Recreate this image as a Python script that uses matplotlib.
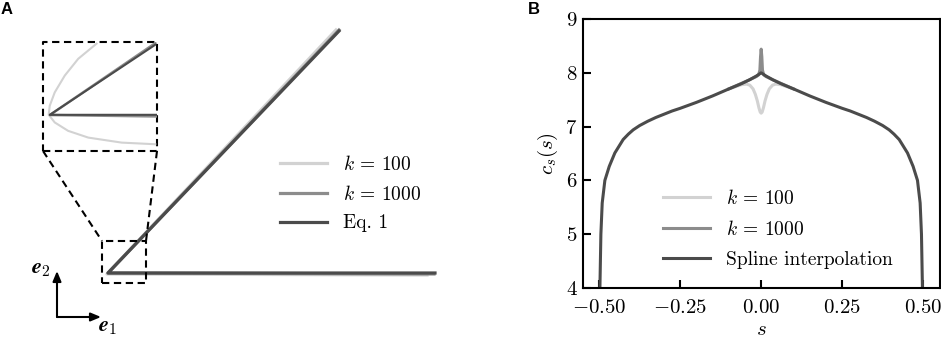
"""Two-panel figure: corner geometry schematic (A) and curvature-like profile c_s(s) (B)."""

import matplotlib

matplotlib.use("Agg")
import matplotlib.pyplot as plt  # noqa: E402

plt.rcParams["font.family"] = "serif"
plt.rcParams["font.serif"] = ["cmr10"]
plt.rcParams["mathtext.fontset"] = "cm"
plt.rcParams["axes.formatter.use_mathtext"] = True

LIGHT, MID, DARK = "#d2d2d2", "#8c8c8c", "#4b4b4b"

# --- panel A: branch geometry, px units measured from the corner vertex (y up)
eq1_x = [231, 0, 327]
eq1_y = [242, 0, 0]
k1000_x = [231, 0, 326]
k1000_y = [243, 0, -1]
k100_x = [228, -1, 319]
k100_y = [243, -1, -2]

# zoomed view near the vertex, inset-local units (0..1)
ins_eq1_x = [0.985, 0.06, 1.0]
ins_eq1_y = [0.975, 0.332, 0.332]
ins_k1000_x = [0.985, 0.06, 1.0]
ins_k1000_y = [0.99, 0.33, 0.317]
ins_k100_x = [0.47, 0.309, 0.191, 0.103, 0.059, 0.05, 0.103, 0.22, 0.397, 0.69, 0.985]
ins_k100_y = [0.985, 0.846, 0.692, 0.538, 0.415, 0.332, 0.262, 0.185, 0.123, 0.077, 0.062]

# --- panel B: c_s(s)
s_vals = [-0.4985, -0.4978, -0.4948, -0.4907, -0.4825, -0.469, -0.4517, -0.426,
          -0.41, -0.395, -0.375, -0.35, -0.325, -0.30, -0.275, -0.25, -0.20,
          -0.15, -0.10, -0.06, -0.036, -0.015, -0.005, 0.0,
          0.005, 0.015, 0.036, 0.06, 0.10, 0.15,
          0.20, 0.25, 0.275, 0.30, 0.325, 0.35, 0.375, 0.395, 0.41,
          0.426, 0.4517, 0.469, 0.4825, 0.4907, 0.4948, 0.4978, 0.4985]
spline_vals = [3.8, 4.0, 5.0, 5.58, 6.0, 6.26, 6.51, 6.76,
               6.86, 6.94, 7.02, 7.10, 7.17, 7.23, 7.29, 7.34, 7.45,
               7.57, 7.70, 7.80, 7.87, 7.94, 7.98, 8.0,
               7.98, 7.94, 7.87, 7.80, 7.70, 7.57,
               7.45, 7.34, 7.29, 7.23, 7.17, 7.10, 7.02, 6.94, 6.86,
               6.76, 6.51, 6.26, 6.0, 5.58, 5.0, 4.0, 3.8]

# near s = 0 the finite-k curves depart from the spline
s_k100 = [-0.10, -0.06, -0.045, -0.035, -0.025, -0.018, -0.012, -0.007, -0.003, 0.0,
          0.003, 0.007, 0.012, 0.018, 0.025, 0.035, 0.045, 0.06, 0.10]
k100_vals = [7.70, 7.78, 7.79, 7.77, 7.70, 7.60, 7.48, 7.35, 7.27, 7.25,
             7.27, 7.35, 7.48, 7.60, 7.70, 7.77, 7.79, 7.78, 7.70]
s_k1000 = [-0.10, -0.036, -0.015, -0.008, -0.004, -0.002, 0.0,
           0.002, 0.004, 0.008, 0.015, 0.036, 0.10]
k1000_vals = [7.70, 7.87, 7.93, 7.96, 8.05, 8.30, 8.44,
              8.30, 8.05, 7.96, 7.93, 7.87, 7.70]

W, H = 941, 341
fig = plt.figure(figsize=(W / 100, H / 100), dpi=100)


def frac(x0, y0, w, h):
    """px box (top-left origin) -> figure fraction rect"""
    return [x0 / W, (H - y0 - h) / H, w / W, h / H]


# ---------------- panel A ----------------
vx, vy = 108, 273  # vertex position in px
ax_a = fig.add_axes([0, 0, 470 / W, 1])
ax_a.set_xlim(-vx, 470 - vx)
ax_a.set_ylim(vy - H, vy)
ax_a.axis("off")

ax_a.plot(k100_x, k100_y, color=LIGHT, lw=2.3, label="$k$ = 100", solid_joinstyle="round")
ax_a.plot(k1000_x, k1000_y, color=MID, lw=2.3, label="$k$ = 1000", solid_joinstyle="round")
ax_a.plot(eq1_x, eq1_y, color=DARK, lw=2.3, label="Eq. 1", solid_joinstyle="round")

dash = dict(color="k", lw=1.5, ls=(0, (3.5, 2.2)))
# inset frame, small frame around vertex and connectors
ax_a.plot([-65, 49, 49, -65, -65], [122, 122, 231, 231, 122], **dash)
ax_a.plot([-6, 38, 38, -6, -6], [-10, -10, 32, 32, -10], **dash)
ax_a.plot([-65, -6], [122, 32], **dash)
ax_a.plot([49, 38], [122, 32], **dash)

# basis arrows
arrow = dict(arrowstyle="-|>,head_length=0.6,head_width=0.25", color="k", lw=1.5,
             shrinkA=0, shrinkB=0)
ox, oy = 57 - vx, vy - 317
ax_a.annotate("", xy=(ox + 44, oy), xytext=(ox, oy), arrowprops=arrow)
ax_a.annotate("", xy=(ox, oy + 46), xytext=(ox, oy), arrowprops=arrow)
ax_a.text(ox + 41, oy - 10, r"$\boldsymbol{e}_1$", fontsize=16, ha="left", va="center")
ax_a.text(ox - 6, oy + 48, r"$\boldsymbol{e}_2$", fontsize=16, ha="right", va="center")

ax_a.legend(loc="upper left", bbox_to_anchor=(280 / W, (H - 155) / H),
            bbox_transform=fig.transFigure, frameon=False, fontsize=14,
            handlelength=2.4, handletextpad=0.85, labelspacing=0.55,
            borderpad=0, borderaxespad=0)

ax_in = fig.add_axes(frac(43, 42, 114, 109))
ax_in.set_xlim(0, 1)
ax_in.set_ylim(0, 1)
ax_in.axis("off")
ax_in.plot(ins_k100_x, ins_k100_y, color=LIGHT, lw=1.5)
ax_in.plot(ins_k1000_x, ins_k1000_y, color=MID, lw=1.8)
ax_in.plot(ins_eq1_x, ins_eq1_y, color=DARK, lw=1.5)

fig.text(1 / W, 1 - 2 / H, "A", fontsize=12, fontweight="bold",
         family="Liberation Sans", ha="left", va="top")

# ---------------- panel B ----------------
ax_b = fig.add_axes(frac(583, 19, 357, 269))
ax_b.plot(s_k100, k100_vals, color=LIGHT, lw=2.2, label="$k$ = 100")
ax_b.plot(s_k1000, k1000_vals, color=MID, lw=2.2, label="$k$ = 1000")
ax_b.plot(s_vals, spline_vals, color=DARK, lw=2.2, label="Spline interpolation")
ax_b.set_xlim(-0.55, 0.552)
ax_b.set_ylim(4, 9)
ax_b.set_xticks([-0.5, -0.25, 0, 0.25, 0.5])
ax_b.set_xticklabels(["$-0.50$", "$-0.25$", "$0.00$", "$0.25$", "$0.50$"])
ax_b.set_yticks([4, 5, 6, 7, 8, 9])
ax_b.tick_params(direction="in", length=6, width=1.5, labelsize=15)
ax_b.tick_params(axis="x", pad=8)
ax_b.tick_params(axis="y", pad=4)
for sp in ax_b.spines.values():
    sp.set_linewidth(1.5)
ax_b.set_xlabel("$s$", fontsize=15, labelpad=3)
ax_b.set_ylabel("$c_s(s)$", fontsize=15, labelpad=4)
ax_b.legend(loc="upper left", bbox_to_anchor=(663 / W, (H - 189) / H),
            bbox_transform=fig.transFigure, frameon=False, fontsize=14,
            handlelength=2.4, handletextpad=0.85, labelspacing=0.62,
            borderpad=0, borderaxespad=0)

fig.text(528 / W, 1 - 2 / H, "B", fontsize=12, fontweight="bold",
         family="Liberation Sans", ha="left", va="top")

fig.savefig("out.png", dpi=100)
